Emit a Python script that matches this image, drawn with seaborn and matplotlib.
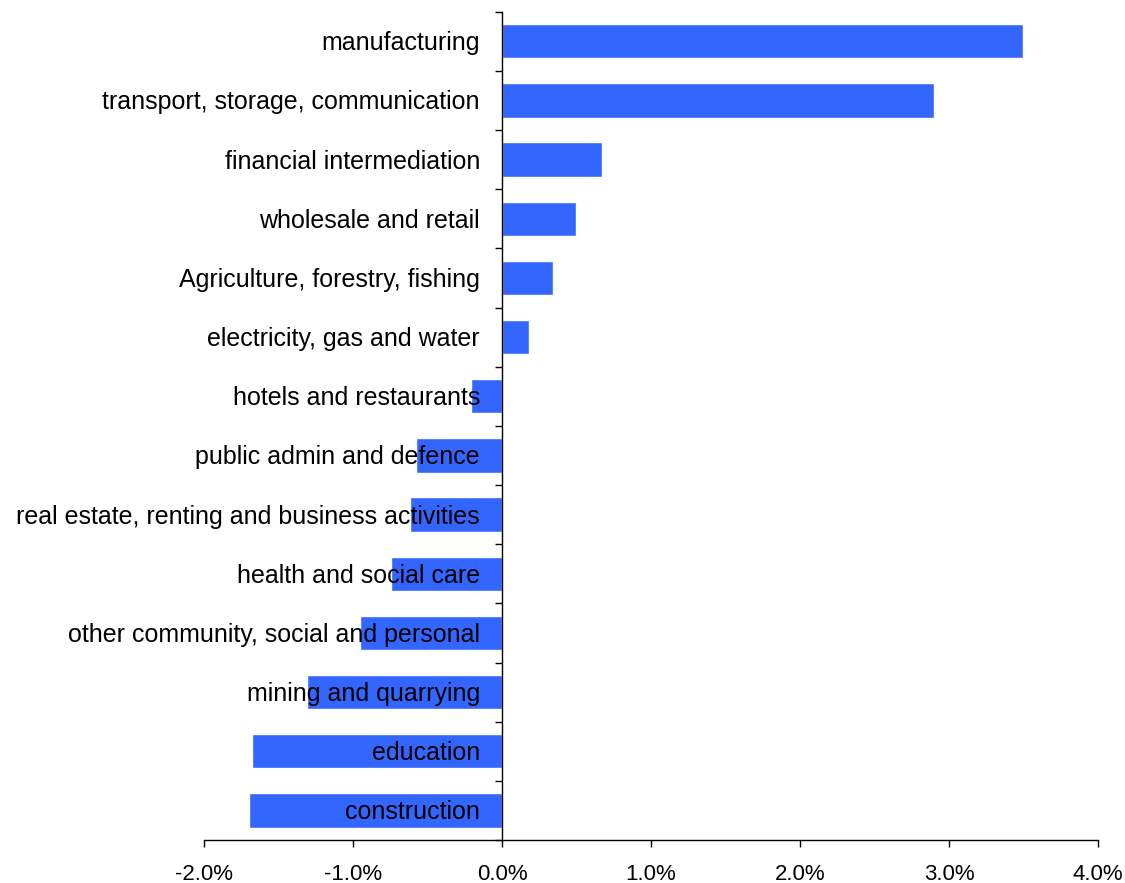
import matplotlib
matplotlib.use("Agg")
import matplotlib.pyplot as plt
from matplotlib.ticker import FuncFormatter, FixedLocator
import seaborn as sns
import pandas as pd

sectors = [
    "manufacturing",
    "transport, storage, communication",
    "financial intermediation",
    "wholesale and retail",
    "Agriculture, forestry, fishing",
    "electricity, gas and water",
    "hotels and restaurants",
    "public admin and defence",
    "real estate, renting and business activities",
    "health and social care",
    "other community, social and personal",
    "mining and quarrying",
    "education",
    "construction",
]
growth = [3.50, 2.90, 0.67, 0.50, 0.34, 0.18, -0.21, -0.58, -0.62, -0.745, -0.95, -1.31, -1.68, -1.70]
x_ticks = [-2.0, -1.0, 0.0, 1.0, 2.0, 3.0, 4.0]

sns.set_theme(style="white")
plt.rcParams["font.family"] = ["Liberation Sans", "DejaVu Sans"]

df = pd.DataFrame({"sector": sectors, "growth": growth})

fig = plt.figure(figsize=(11.25, 8.83), dpi=100)
ax = fig.add_axes([0.1813, 0.0487, 0.7947, 0.938])

sns.barplot(data=df, x="growth", y="sector", order=sectors, orient="h",
            color="#3366FF", saturation=1, width=0.58, ax=ax)

ax.set_xlim(x_ticks[0], x_ticks[-1])
ax.set_ylim(len(sectors) - 0.5, -0.5)
ax.set_xlabel("")
ax.set_ylabel("")

# category boundaries as tick marks on the zero line
ax.yaxis.set_major_locator(FixedLocator([i - 0.5 for i in range(len(sectors) + 1)]))
ax.set_yticklabels([])
ax.tick_params(axis="y", direction="out", length=5, width=1, color="black", left=True)

ax.set_xticks(x_ticks)
ax.xaxis.set_major_formatter(FuncFormatter(lambda v, _: f"{v:.1f}%"))
ax.tick_params(axis="x", direction="out", length=5, width=1, color="black",
               labelcolor="black", bottom=True, labelsize=16, pad=12)

for side in ("top", "right"):
    ax.spines[side].set_visible(False)
ax.spines["left"].set_position(("data", 0))
for side in ("left", "bottom"):
    ax.spines[side].set_color("black")
    ax.spines[side].set_linewidth(1)

# sector names sit just left of the zero line, over the bars
for i, name in enumerate(sectors):
    ax.annotate(name, xy=(0, i), xytext=(-22, -2), textcoords="offset pixels",
                ha="right", va="center", fontsize=18, color="black", zorder=5)

fig.savefig("out.png", dpi=100)
